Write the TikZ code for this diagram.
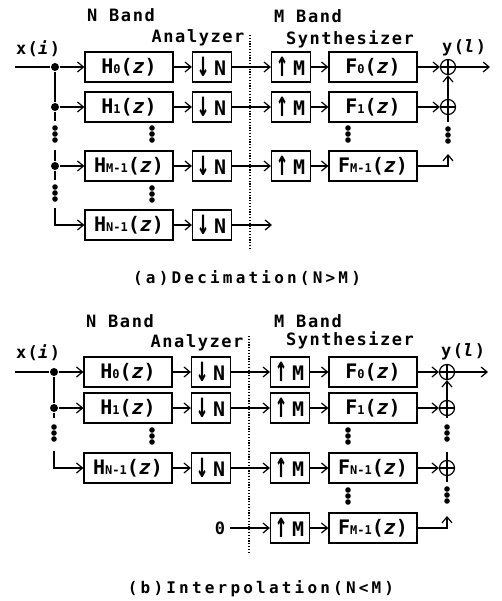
\documentclass[tikz,border=0pt]{standalone}
\usepackage{fontspec}
\usepackage{graphicx}
\usetikzlibrary{arrows.meta,positioning}
\newfontfamily\boxfont{DejaVu Sans Mono Bold}[ItalicFont={DejaVu Sans Mono Bold Oblique}]
\newfontfamily\labfont{DejaVu Sans Mono Bold}[LetterSpace=9,ItalicFont={DejaVu Sans Mono Bold Oblique}]
\newfontfamily\capfont{DejaVu Sans Mono Bold}[LetterSpace=20]
\newcommand\subs[1]{{\fontsize{12}{12}\selectfont #1}}
\newcommand\dnN{\raisebox{-1.5pt}{\scalebox{1}[1.8]{↓}}\hspace{4pt}N}
\newcommand\upM{\raisebox{-1.5pt}{\scalebox{1}[1.8]{↑}}\hspace{4pt}M}
\newcommand\threedots[2]{\foreach \d in {0,6,12}{\fill (#1,{#2+\d}) circle (2.8pt);}}

\begin{document}
\begin{tikzpicture}[x=1pt,y=-1pt,line width=1.2pt,
 >={Straight Barb[length=6pt,width=10pt]},
 wbox/.style={draw,minimum width=88pt,minimum height=30pt,inner sep=0pt,font=\boxfont\fontsize{20}{20}\selectfont},
 nbox/.style={wbox,minimum width=39pt},
 sumnode/.style={circle,draw,minimum size=15pt,inner sep=0pt,
  path picture={\draw (path picture bounding box.north)--(path picture bounding box.south)
   (path picture bounding box.west)--(path picture bounding box.east);}},
 jdot/.style={circle,fill,inner sep=0pt,minimum size=8pt},
 lab/.style={anchor=base,inner sep=0pt,font=\labfont\fontsize{17}{17}\selectfont},
 captext/.style={anchor=base,inner sep=0pt,font=\capfont\fontsize{16}{16}\selectfont},
 arr/.style={->},
 sep/.style={dash pattern=on 1.2pt off 1.6pt}]
\useasboundingbox (0,0) rectangle (502,601);
% (a) decimation
\foreach \r/\y/\k in {0/67/0,1/107/1,2/166/M-1}{
 \node[jdot] (sa\r) at (55,\y) {};
 \node[wbox] (ha\r) at (129,\y) {H\subs{\k}(\textit{z})};
 \node[nbox] (da\r) at (212,\y) {\dnN};
 \node[nbox] (ua\r) at (291,\y) {\upM};
 \node[wbox] (fa\r) at (373,\y) {F\subs{\k}(\textit{z})};
 \draw[arr] (sa\r) -- (ha\r);
 \draw[arr] (ha\r) -- (da\r);
 \draw[arr] (da\r) -- (ua\r);
 \draw[arr] (ua\r) -- (fa\r);
}
\node[wbox] (ha3) at (129,225) {H\subs{N-1}(\textit{z})};
\node[nbox] (da3) at (212,225) {\dnN};
\coordinate (ea3) at (272,225);
\draw[arr] (ha3) -- (da3);
\draw[arr] (da3) -- (ea3);
\node[sumnode] (pa0) at (448,67) {};
\node[sumnode] (pa1) at (448,107) {};
\coordinate (ta2) at (448,154);
\coordinate (oa) at (490,67);
\coordinate (qa1) at (448,122);
\draw[arr] (fa0) -- (pa0);
\draw[arr] (fa1) -- (pa1);
\draw[arr] (pa1) -- (pa0);
\draw[arr] (pa0) -- (oa);
\draw[arr] (fa2) -| (ta2);
\draw (pa1) -- (qa1);
\threedots{448}{129}
\coordinate (ina) at (15,67);
\coordinate (la1) at (55,121);
\coordinate (la2) at (55,150);
\coordinate (lb2) at (55,180);
\coordinate (la3) at (55,208);
\draw (ina) -- (sa0) -- (sa1) -- (la1);
\draw (la2) -- (sa2) -- (lb2);
\draw[arr] (la3) |- (ha3);
\threedots{55}{128}
\threedots{55}{187}
\threedots{152}{128}
\threedots{348}{128}
\threedots{152}{188}
\draw[sep] (250,35) -- (250,248);
\node[lab] (nba) at (121,22) {N Band};
\node[lab] (ana) at (198,43) {Analyzer};
\node[lab] (mba) at (308,23) {M Band};
\node[lab] (sya) at (350,45) {Synthesizer};
\node[lab] (xa) at (38,55) {x(\textit{i})};
\node[lab] (ya) at (464,53) {y(\textit{l})};
\node[captext] (capa) at (247,283) {(a)Decimation(N>M)};
% (b) interpolation
\foreach \r/\y/\k in {0/372/0,1/408/1,2/468/N-1}{
 \node[wbox] (hb\r) at (128,\y) {H\subs{\k}(\textit{z})};
 \node[nbox] (db\r) at (211,\y) {\dnN};
 \node[nbox] (ub\r) at (290,\y) {\upM};
 \node[wbox] (fb\r) at (373,\y) {F\subs{\k}(\textit{z})};
 \node[sumnode] (pb\r) at (447,\y) {};
 \draw[arr] (hb\r) -- (db\r);
 \draw[arr] (db\r) -- (ub\r);
 \draw[arr] (ub\r) -- (fb\r);
 \draw[arr] (fb\r) -- (pb\r);
}
\foreach \r/\y in {0/372,1/408}{
 \node[jdot] (sb\r) at (54,\y) {};
 \draw[arr] (sb\r) -- (hb\r);
}
\node[lab,anchor=center,inner xsep=4pt] (zb) at (220,528) {0};
\node[nbox] (ub3) at (290,528) {\upM};
\node[wbox] (fb3) at (373,528) {F\subs{M-1}(\textit{z})};
\coordinate (tb3) at (447,516);
\draw[arr] (zb) -- (ub3);
\draw[arr] (ub3) -- (fb3);
\draw[arr] (fb3) -| (tb3);
\coordinate (inb) at (15,372);
\coordinate (lb1) at (54,418);
\coordinate (lb2) at (54,451);
\draw (inb) -- (sb0) -- (sb1) -- (lb1);
\draw[arr] (lb2) |- (hb2);
\threedots{54}{427}
\coordinate (ob) at (488,372);
\coordinate (qb1) at (447,418);
\coordinate (qb2) at (447,452);
\coordinate (rb2) at (447,482);
\draw[arr] (pb0) -- (ob);
\draw[arr] (pb1) -- (pb0);
\draw (pb1) -- (qb1);
\draw (qb2) -- (pb2) -- (rb2);
\threedots{447}{427}
\threedots{447}{489}
\threedots{152}{430}
\threedots{348}{430}
\threedots{348}{490}
\draw[sep] (249,336) -- (249,552);
\node[lab] (nbb) at (120,327) {N Band};
\node[lab] (anb) at (197,347) {Analyzer};
\node[lab] (mbb) at (308,327) {M Band};
\node[lab] (syb) at (350,345) {Synthesizer};
\node[lab] (xb) at (38,358) {x(\textit{i})};
\node[lab] (yb) at (463,356) {y(\textit{l})};
\node[captext] (capb) at (261,593) {(b)Interpolation(N<M)};
\end{tikzpicture}
\end{document}
